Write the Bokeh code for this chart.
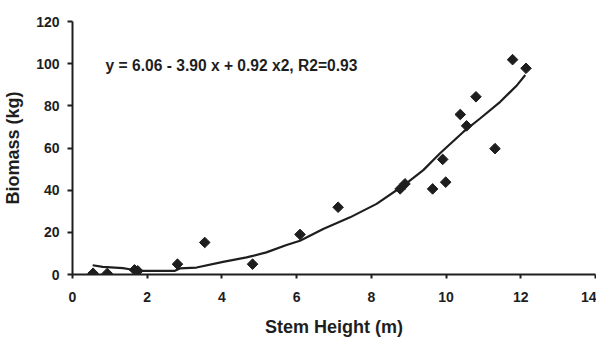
import numpy as np
from bokeh.plotting import figure
from bokeh.models import Range1d, FixedTicker, ColumnDataSource
from bokeh.core.properties import value
from bokeh.embed import file_html
from bokeh.resources import INLINE

stem_height = [0.55, 0.93, 1.66, 1.75, 2.81, 3.54, 4.82, 6.09, 7.11, 8.77,
               8.90, 9.64, 9.91, 9.99, 10.38, 10.55, 10.80, 11.31, 11.78, 12.14]
biomass = [0.6, 0.5, 2.2, 1.7, 4.9, 15.2, 4.9, 19.0, 31.9, 40.6,
           43.0, 40.6, 54.6, 43.8, 75.9, 70.5, 84.3, 59.7, 101.9, 97.8]

# Fitted trend line as drawn
trend_x = [0.54, 0.81, 1.35, 1.53, 1.62, 2.73, 2.87, 3.32, 4.03, 4.66, 5.19, 5.73,
           6.09, 6.71, 7.43, 8.14, 8.86, 9.39, 9.84, 10.46, 10.91, 11.45, 11.90, 12.12]
trend_y = [4.4, 3.6, 3.0, 2.5, 1.7, 1.7, 2.9, 3.3, 6.0, 8.1, 10.5, 14.0,
           16.0, 21.6, 27.1, 33.5, 42.2, 49.5, 57.5, 67.6, 74.0, 81.9, 89.8, 94.6]

equation = "y = 6.06 - 3.90 x + 0.92 x2, R2=0.93"
x_ticks = [0, 2, 4, 6, 8, 10, 12, 14]
y_ticks = [0, 20, 40, 60, 80, 100, 120]

FONT = "Liberation Sans"
INK = "#1e1e1e"

p = figure(frame_width=523, frame_height=253, output_backend="svg", toolbar_location=None,
           x_range=Range1d(0, 14), y_range=Range1d(0, 120),
           min_border_left=65, min_border_right=1, min_border_top=21, min_border_bottom=50)
p.outline_line_color = None
p.xgrid.visible = False
p.ygrid.visible = False
p.background_fill_color = "white"
p.border_fill_color = "white"

for ax in (p.xaxis[0], p.yaxis[0]):
    ax.axis_line_color = INK
    ax.axis_line_width = 2
    ax.major_tick_line_color = INK
    ax.major_tick_line_width = 2
    ax.minor_tick_line_color = None
    ax.major_tick_in = 0
    ax.major_label_text_font = FONT
    ax.major_label_text_font_style = "bold"
    ax.major_label_text_font_size = "14px"
    ax.major_label_text_color = INK
    ax.axis_label_text_font = FONT
    ax.axis_label_text_font_style = "bold"
    ax.axis_label_text_font_size = "18px"
    ax.axis_label_text_color = INK

p.xaxis.ticker = FixedTicker(ticks=x_ticks)
p.yaxis.ticker = FixedTicker(ticks=y_ticks)
p.xaxis.major_tick_out = 4
p.yaxis.major_tick_out = 5
p.xaxis.major_label_standoff = 13
p.yaxis.major_label_standoff = 8
p.xaxis.axis_label = "Stem Height (m)"
p.yaxis.axis_label = "Biomass (kg)"
p.xaxis.axis_label_standoff = 12
p.yaxis.axis_label_standoff = 10

p.line(trend_x, trend_y, line_color=INK, line_width=2.2)
p.scatter(stem_height, biomass, marker="square", size=7.5, angle=np.pi / 4,
          fill_color=INK, line_color=INK)

src = ColumnDataSource(dict(x=[0.885], y=[99.2], t=[equation]))
p.text(x="x", y="y", text="t", source=src, text_font=value(FONT),
       text_font_style="bold", text_font_size="15.6px", text_color=INK,
       text_baseline="middle", text_align="left")

open("out.html", "w").write(file_html(p, INLINE))
